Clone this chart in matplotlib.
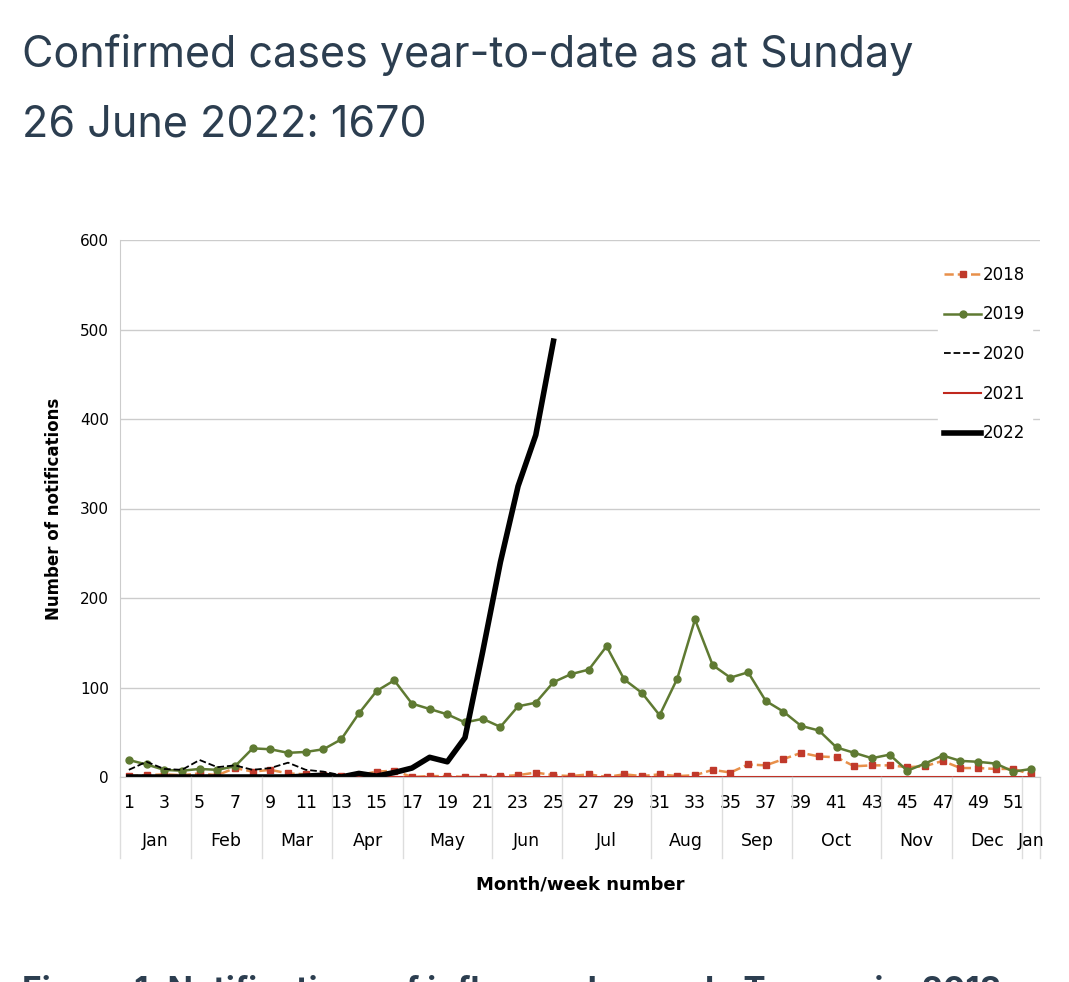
import numpy as np
import matplotlib.pyplot as plt
import matplotlib.transforms as mtransforms

weeks = np.arange( 1, 53 )
cases_2018 = [ 1, 2, 3, 2, 4, 2, 10, 6, 8, 4, 3, 2, 1, 2, 6, 7, 0, 1, 1, 0, 0, 1, 2, 5, 2, 1,
	3, 0, 3, 1, 3, 1, 2, 8, 5, 14, 13, 20, 27, 23, 22, 12, 13, 13, 11, 12, 18, 10, 10, 9, 9, 3 ]
cases_2019 = [ 19, 14, 8, 7, 9, 8, 12, 32, 31, 27, 28, 31, 42, 71, 96, 108, 82, 76, 70, 61, 65, 56,
	79, 83, 106, 115, 120, 146, 109, 94, 69, 110, 176, 125, 111, 117, 85, 73, 57, 52, 33, 27,
	21, 25, 7, 15, 24, 18, 17, 15, 6, 9 ]
cases_2020 = [ 8, 17, 9, 8, 19, 11, 13, 8, 10, 16, 8, 6, 2 ]
cases_2021 = [ 0 ] * 52
cases_2022 = [ 0, 0, 0, 0, 0, 0, 0, 0, 0, 0, 1, 2, 0, 4, 1, 5, 10, 22, 17, 44, 140, 240, 325, 382, 487 ]

months     = [ 'Jan', 'Feb', 'Mar', 'Apr', 'May', 'Jun', 'Jul', 'Aug', 'Sep', 'Oct', 'Nov', 'Dec', 'Jan' ]
month_edge = [ 0.5, 4.5, 8.5, 12.5, 16.5, 21.5, 25.5, 30.5, 34.5, 38.5, 43.5, 47.5, 51.5, 52.5 ]

fig = plt.figure( figsize = ( 10.69, 9.82 ), dpi = 100 )
ax  = fig.add_axes( [ 120 / 1069, 1 - 777 / 982, 920 / 1069, 537 / 982 ] )

ax.plot( weeks, cases_2018, '--s', color = '#e8904a', mfc = '#c0392b', mec = '#c0392b',
	ms = 5, lw = 1.8, label = '2018' )
ax.plot( weeks, cases_2019, '-o', color = '#5f7a32', ms = 5, lw = 1.8, label = '2019' )
ax.plot( weeks[ :len( cases_2020 ) ], cases_2020, '--', color = 'black', lw = 1.3, label = '2020' )
ax.plot( weeks, cases_2021, '-', color = '#c0281e', lw = 1.5, label = '2021' )
ax.plot( weeks[ :len( cases_2022 ) ], cases_2022, '-', color = 'black', lw = 4, label = '2022' )

ax.set_xlim( 0.5, 52.5 )
ax.set_ylim( 0, 600 )
ax.set_yticks( range( 0, 601, 100 ) )
ax.yaxis.grid( True, color = '#cccccc', lw = 1 )
ax.set_axisbelow( True )
for s in [ 'top', 'right' ]:
	ax.spines[ s ].set_visible( False )
ax.spines[ 'left' ].set_color( '#cccccc' )
ax.spines[ 'bottom' ].set_color( '#cccccc' )
ax.tick_params( axis = 'y', length = 0, labelsize = 11, pad = 8 )
ax.set_xticks( weeks[ ::2 ] )
ax.set_xticklabels( [ str( w ) for w in weeks[ ::2 ] ], fontsize = 12.5 )
ax.tick_params( axis = 'x', length = 0, pad = 12 )
ax.set_ylabel( 'Number of notifications', fontsize = 12, fontweight = 'bold', labelpad = 12 )

trans = mtransforms.blended_transform_factory( ax.transData, ax.transAxes )
for e in month_edge:
	ax.plot( [ e, e ], [ 0, -0.15 ], transform = trans, color = '#dddddd', lw = 1, clip_on = False )
for i, m in enumerate( months ):
	ax.text( ( month_edge[ i ] + month_edge[ i + 1 ] ) / 2, -0.12, m, transform = trans,
		ha = 'center', va = 'center', fontsize = 12.5 )
ax.text( 0.5, -0.2, 'Month/week number', transform = ax.transAxes, ha = 'center',
	va = 'center', fontsize = 13, fontweight = 'bold' )

leg = ax.legend( loc = 'upper right', bbox_to_anchor = ( 1.0, 0.98 ), frameon = True,
	fontsize = 12, labelspacing = 1.3, handlelength = 2.2, handletextpad = 0.1 )
leg.get_frame().set_edgecolor( 'white' )
leg.get_frame().set_facecolor( 'white' )
leg.get_frame().set_alpha( 1 )

fig.text( 22 / 1069, 1 - 55 / 982, 'Confirmed cases year-to-date as at Sunday',
	fontsize = 31, color = '#2c3e50', va = 'center', family = 'Inter' )
fig.text( 22 / 1069, 1 - 125 / 982, '26 June 2022: 1670',
	fontsize = 31, color = '#2c3e50', va = 'center', family = 'Inter' )
fig.text( 22 / 1069, 1 - 992 / 982, 'Figure 1: Notifications of influenza by week, Tasmania, 2018',
	fontsize = 24, fontweight = 'bold', color = '#2c3e50', va = 'center', family = 'Inter' )

plt.savefig( 'out.png', dpi = 100 )
plt.close()
